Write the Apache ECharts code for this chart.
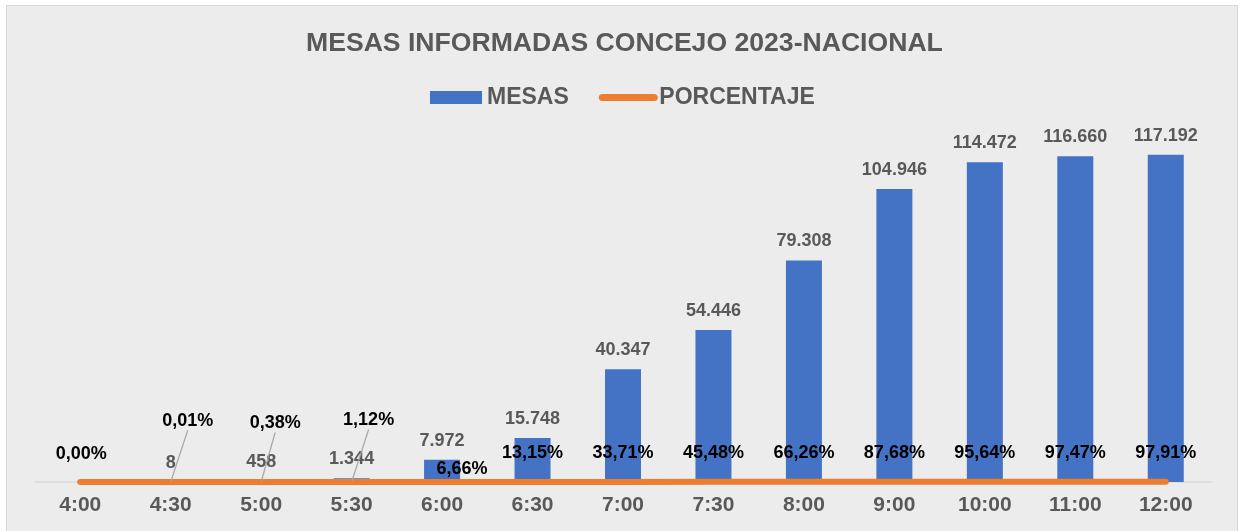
<!DOCTYPE html>
<html lang="es">

<head>
	<meta charset="UTF-8">
	<title>Mesas informadas</title>
	<script src="https://cdn.jsdelivr.net/npm/echarts@6/dist/echarts.min.js"></script>
	<style>
		html, body {
			margin: 0;
			padding: 0;
			background: #fff;
		}

		#panel {
			position: absolute;
			left: 6px;
			top: 5px;
			width: 1230px;
			height: 530px;
			background-color: #ececec;
			border: 1px solid #d9d9d9;
		}

		#main {
			position: absolute;
			left: 0;
			top: 0;
			width: 1240px;
			height: 531px;
		}
	</style>
</head>

<body>
	<div id="panel"></div>
	<div id="main"></div>

	<script>
		const horas = ['4:00', '4:30', '5:00', '5:30', '6:00', '6:30', '7:00', '7:30', '8:00', '9:00', '10:00', '11:00', '12:00'];
		const mesas = [null, 8, 458, 1344, 7972, 15748, 40347, 54446, 79308, 104946, 114472, 116660, 117192];
		const porcentaje = [0.00, 0.01, 0.38, 1.12, 6.66, 13.15, 33.71, 45.48, 66.26, 87.68, 95.64, 97.47, 97.91];

		const FONT = '"Liberation Sans", Arial, sans-serif';

		function miles(v) {
			return String(v).replace(/\B(?=(\d{3})+(?!\d))/g, '.');
		}

		// etiquetas de porcentaje con línea guía
		const guia = { 1: [17, -32], 2: [14, -30], 3: [17, -33] };
		// etiquetas corridas sin guía
		const corrida = { 0: [1, 1], 4: [20, 16] };

		const myChart = echarts.init(document.getElementById('main'));

		const option = {
			animation: false,
			backgroundColor: 'transparent',
			title: {
				text: 'MESAS INFORMADAS CONCEJO 2023-NACIONAL',
				left: 301,
				top: 25,
				textStyle: {
					fontFamily: FONT,
					fontSize: 26.6,
					fontWeight: 'bold',
					color: '#595959'
				}
			},
			legend: {
				left: 430,
				top: 86,
				padding: 0,
				itemWidth: 52,
				itemHeight: 13,
				itemGap: 30,
				textStyle: {
					fontFamily: FONT,
					fontSize: 23,
					fontWeight: 'bold',
					color: '#595959'
				},
				data: [
					{ name: 'MESAS', icon: 'rect' },
					{
						name: 'PORCENTAJE',
						itemStyle: { opacity: 0 },
						lineStyle: { width: 7, cap: 'round', color: '#ed7d31' }
					}
				]
			},
			grid: {
				left: 35,
				right: 29,
				top: 91,
				bottom: 49,
				containLabel: false
			},
			xAxis: {
				type: 'category',
				data: horas,
				axisTick: { show: false },
				axisLine: { lineStyle: { color: '#d9d9d9', width: 1.5 } },
				axisLabel: {
					margin: 13,
					fontFamily: FONT,
					fontSize: 21,
					fontWeight: 'bold',
					color: '#595959'
				}
			},
			yAxis: {
				type: 'value',
				min: 0,
				max: 140000,
				show: false,
				splitLine: { show: false }
			},
			series: [
				{
					name: 'MESAS',
					type: 'bar',
					data: mesas,
					barWidth: 36,
					itemStyle: { color: '#4472c4' },
					label: {
						show: true,
						position: 'top',
						distance: 10,
						fontFamily: FONT,
						fontSize: 18,
						fontWeight: 'bold',
						color: '#595959',
						formatter: p => miles(p.value)
					}
				},
				{
					name: 'PORCENTAJE',
					type: 'line',
					data: porcentaje.map((v, i) => ({
						value: v,
						labelLine: { show: !!guia[i] }
					})),
					symbol: 'circle',
					symbolSize: 1,
					showSymbol: true,
					lineStyle: { color: '#ed7d31', width: 6, cap: 'round' },
					itemStyle: { color: '#ed7d31' },
					z: 5,
					label: {
						show: true,
						position: 'top',
						distance: 19,
						fontFamily: FONT,
						fontSize: 18,
						fontWeight: 'bold',
						color: '#000',
						formatter: p => p.value.toFixed(2).replace('.', ',') + '%'
					},
					labelLine: {
						show: true,
						lineStyle: { color: '#a6a6a6', width: 1.2 }
					},
					labelLayout: function (params) {
						const d = guia[params.dataIndex] || corrida[params.dataIndex];
						if (!d) return {};
						return { dx: d[0], dy: d[1] };
					}
				}
			]
		};

		myChart.setOption(option);
	</script>
</body>

</html>
